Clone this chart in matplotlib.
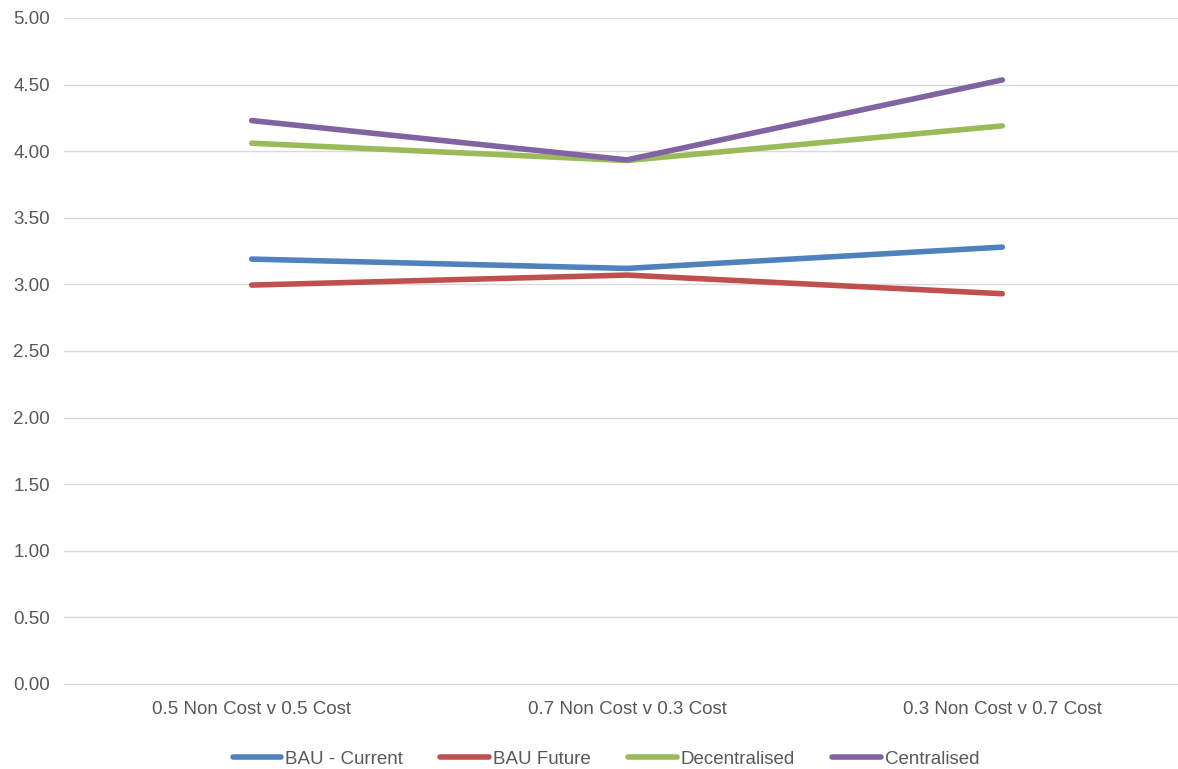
import matplotlib
matplotlib.use('Agg')
import matplotlib.pyplot as plt
import numpy as np

categories = ['0.5 Non Cost v 0.5 Cost', '0.7 Non Cost v 0.3 Cost', '0.3 Non Cost v 0.7 Cost']
bau_current = [3.19, 3.12, 3.28]
bau_future = [2.995, 3.07, 2.93]
decentralised = [4.06, 3.93, 4.19]
centralised = [4.23, 3.935, 4.535]

series = [
    ('BAU - Current', bau_current, '#4F81BD'),
    ('BAU Future', bau_future, '#C0504D'),
    ('Decentralised', decentralised, '#9BBB59'),
    ('Centralised', centralised, '#8064A2'),
]

plt.rcParams['font.family'] = ['Liberation Sans', 'DejaVu Sans']

fig = plt.figure(figsize=(11.78, 7.69), dpi=100)
ax = fig.add_axes([64 / 1178, 85 / 769, 1126 / 1178, 666 / 769])

x = np.arange(len(categories))
for name, vals, color in series:
    ax.plot(x, vals, color=color, linewidth=4, label=name, solid_capstyle='round')

ax.set_xlim(-0.5, 2.5)
ax.set_ylim(0, 5)
ax.set_yticks(np.arange(0, 5.01, 0.5))
ax.set_yticklabels([f'{v:.2f}' for v in np.arange(0, 5.01, 0.5)])
ax.set_xticks(x)
ax.set_xticklabels(categories)
ax.grid(axis='y', color='#D9D9D9', linewidth=1)
ax.set_axisbelow(True)
for s in ['top', 'right', 'left']:
    ax.spines[s].set_visible(False)
ax.spines['bottom'].set_color('#D9D9D9')
ax.tick_params(axis='both', length=0, colors='#595959', labelsize=13.5)
ax.tick_params(axis='x', pad=12)
ax.tick_params(axis='y', pad=10)

fig.legend(loc='center', bbox_to_anchor=(606 / 1178, 10 / 769), ncol=4, frameon=False,
           fontsize=13.5, handlelength=2.6, handletextpad=0.2, columnspacing=2.0,
           labelcolor='#595959')

fig.savefig('out.png', dpi=100)
